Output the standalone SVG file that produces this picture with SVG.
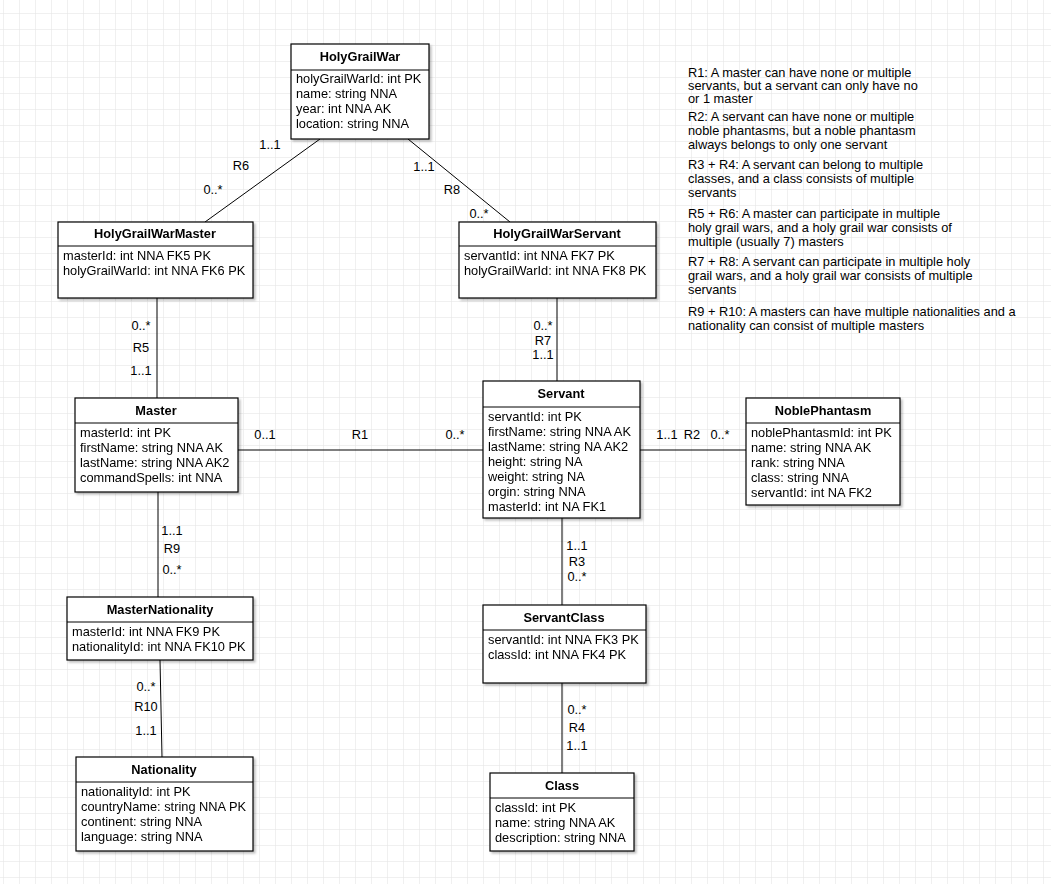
<svg xmlns="http://www.w3.org/2000/svg" width="1051" height="884" viewBox="0 0 1051 884">
<defs>
<pattern id="grid" x="3" y="13" width="16" height="16" patternUnits="userSpaceOnUse">
<path d="M0 0H16M0 0V16" fill="none" stroke="#e2e2e2" stroke-width="1"/>
</pattern>
<filter id="sh" x="-5%" y="-5%" width="115%" height="115%"><feDropShadow dx="2" dy="2" stdDeviation="1.2" flood-color="#000" flood-opacity="0.25"/></filter>
</defs>
<style>
text{font-family:"Liberation Sans",Arial,sans-serif;font-size:12.8px;fill:#000}
.h{font-weight:bold;text-anchor:middle}
.b{fill:#fff;stroke:#000;stroke-width:1.2}
.c line{stroke:#000;stroke-width:1}
.l{text-anchor:middle}
</style>
<rect width="1051" height="884" fill="#fff"/>
<rect width="1051" height="884" fill="url(#grid)"/>

<g class="c" id="connectors">
<line x1="320" y1="139" x2="205" y2="222"/>
<line x1="408" y1="139" x2="510" y2="222"/>
<line x1="157" y1="298" x2="157" y2="398"/>
<line x1="557" y1="298" x2="557" y2="381"/>
<line x1="238" y1="450" x2="483" y2="450"/>
<line x1="640" y1="450" x2="746" y2="450"/>
<line x1="158" y1="492" x2="158" y2="597"/>
<line x1="160" y1="660" x2="162" y2="757"/>
<line x1="562" y1="518" x2="562" y2="605"/>
<line x1="562" y1="683" x2="562" y2="773"/>
<text x="270" y="149" class="l">1..1</text><text x="241" y="170" class="l">R6</text><text x="213" y="194" class="l">0..*</text>
<text x="424" y="171" class="l">1..1</text><text x="452" y="194" class="l">R8</text><text x="479" y="218" class="l">0..*</text>
<text x="141" y="330" class="l">0..*</text><text x="141" y="352" class="l">R5</text><text x="141" y="375" class="l">1..1</text>
<text x="543" y="330" class="l">0..*</text><text x="543" y="345" class="l">R7</text><text x="543" y="359" class="l">1..1</text>
<text x="265" y="439" class="l">0..1</text><text x="360" y="439" class="l">R1</text><text x="455" y="439" class="l">0..*</text>
<text x="667" y="439" class="l">1..1</text><text x="692" y="439" class="l">R2</text><text x="720" y="439" class="l">0..*</text>
<text x="172" y="535" class="l">1..1</text><text x="172" y="553" class="l">R9</text><text x="172" y="574" class="l">0..*</text>
<text x="146" y="691" class="l">0..*</text><text x="146" y="711" class="l">R10</text><text x="146" y="735" class="l">1..1</text>
<text x="577" y="550" class="l">1..1</text><text x="577" y="566" class="l">R3</text><text x="577" y="581" class="l">0..*</text>
<text x="577" y="714" class="l">0..*</text><text x="577" y="732" class="l">R4</text><text x="577" y="750" class="l">1..1</text>
</g>

<g id="HolyGrailWar" filter="url(#sh)">
<rect class="b" x="291" y="44" width="138" height="95"/><line x1="291" y1="70" x2="429" y2="70" stroke="#000"/>
<text x="360" y="61" class="h">HolyGrailWar</text>
<text x="296" y="83">holyGrailWarId: int PK</text><text x="296" y="98">name: string NNA</text><text x="296" y="113">year: int NNA AK</text><text x="296" y="128">location: string NNA</text>
</g>
<g id="HolyGrailWarMaster" filter="url(#sh)">
<rect class="b" x="58" y="222" width="195" height="76"/><line x1="58" y1="246" x2="253" y2="246" stroke="#000"/>
<text x="155" y="238" class="h">HolyGrailWarMaster</text>
<text x="63" y="260">masterId: int NNA FK5 PK</text><text x="63" y="275">holyGrailWarId: int NNA FK6 PK</text>
</g>
<g id="HolyGrailWarServant" filter="url(#sh)">
<rect class="b" x="459" y="222" width="197" height="76"/><line x1="459" y1="246" x2="656" y2="246" stroke="#000"/>
<text x="557" y="238" class="h">HolyGrailWarServant</text>
<text x="464" y="260">servantId: int NNA FK7 PK</text><text x="464" y="275">holyGrailWarId: int NNA FK8 PK</text>
</g>
<g id="Master" filter="url(#sh)">
<rect class="b" x="75" y="398" width="163" height="94"/><line x1="75" y1="423" x2="238" y2="423" stroke="#000"/>
<text x="156" y="415" class="h">Master</text>
<text x="80" y="437">masterId: int PK</text><text x="80" y="452">firstName: string NNA AK</text><text x="80" y="467">lastName: string NNA AK2</text><text x="80" y="482">commandSpells: int NNA</text>
</g>
<g id="Servant" filter="url(#sh)">
<rect class="b" x="483" y="381" width="157" height="137"/><line x1="483" y1="407" x2="640" y2="407" stroke="#000"/>
<text x="561" y="398" class="h">Servant</text>
<text x="488" y="421">servantId: int PK</text><text x="488" y="436">firstName: string NNA AK</text><text x="488" y="451">lastName: string NA AK2</text><text x="488" y="466">height: string NA</text><text x="488" y="481">weight: string NA</text><text x="488" y="496">orgin: string NNA</text><text x="488" y="511">masterId: int NA FK1</text>
</g>
<g id="NoblePhantasm" filter="url(#sh)">
<rect class="b" x="746" y="398" width="154" height="107"/><line x1="746" y1="423" x2="900" y2="423" stroke="#000"/>
<text x="823" y="415" class="h">NoblePhantasm</text>
<text x="751" y="437">noblePhantasmId: int PK</text><text x="751" y="452">name: string NNA AK</text><text x="751" y="467">rank: string NNA</text><text x="751" y="482">class: string NNA</text><text x="751" y="497">servantId: int NA FK2</text>
</g>
<g id="MasterNationality" filter="url(#sh)">
<rect class="b" x="67" y="597" width="186" height="63"/><line x1="67" y1="622" x2="253" y2="622" stroke="#000"/>
<text x="160" y="614" class="h">MasterNationality</text>
<text x="72" y="636">masterId: int NNA FK9 PK</text><text x="72" y="651">nationalityId: int NNA FK10 PK</text>
</g>
<g id="ServantClass" filter="url(#sh)">
<rect class="b" x="483" y="605" width="163" height="78"/><line x1="483" y1="630" x2="646" y2="630" stroke="#000"/>
<text x="564" y="622" class="h">ServantClass</text>
<text x="488" y="644">servantId: int NNA FK3 PK</text><text x="488" y="659">classId: int NNA FK4 PK</text>
</g>
<g id="Nationality" filter="url(#sh)">
<rect class="b" x="76" y="757" width="177" height="94"/><line x1="76" y1="782" x2="253" y2="782" stroke="#000"/>
<text x="164" y="774" class="h">Nationality</text>
<text x="81" y="796">nationalityId: int PK</text><text x="81" y="811">countryName: string NNA PK</text><text x="81" y="826">continent: string NNA</text><text x="81" y="841">language: string NNA</text>
</g>
<g id="Class" filter="url(#sh)">
<rect class="b" x="490" y="773" width="144" height="78"/><line x1="490" y1="798" x2="634" y2="798" stroke="#000"/>
<text x="562" y="790" class="h">Class</text>
<text x="495" y="812">classId: int PK</text><text x="495" y="827">name: string NNA AK</text><text x="495" y="842">description: string NNA</text>
</g>

<g id="notes">
<text x="688" y="77">R1: A master can have none or multiple</text><text x="688" y="90">servants, but a servant can only have no</text><text x="688" y="103">or 1 master</text>
<text x="688" y="121">R2: A servant can have none or multiple</text><text x="688" y="135">noble phantasms, but a noble phantasm</text><text x="688" y="149">always belongs to only one servant</text>
<text x="688" y="169">R3 + R4: A servant can belong to multiple</text><text x="688" y="183">classes, and a class consists of multiple</text><text x="688" y="197">servants</text>
<text x="688" y="218">R5 + R6: A master can participate in multiple</text><text x="688" y="232">holy grail wars, and a holy grail war consists of</text><text x="688" y="246">multiple (usually 7) masters</text>
<text x="688" y="266">R7 + R8: A servant can participate in multiple holy</text><text x="688" y="280">grail wars, and a holy grail war consists of multiple</text><text x="688" y="294">servants</text>
<text x="688" y="316">R9 + R10: A masters can have multiple nationalities and a</text><text x="688" y="330">nationality can consist of multiple masters</text>
</g>
</svg>
